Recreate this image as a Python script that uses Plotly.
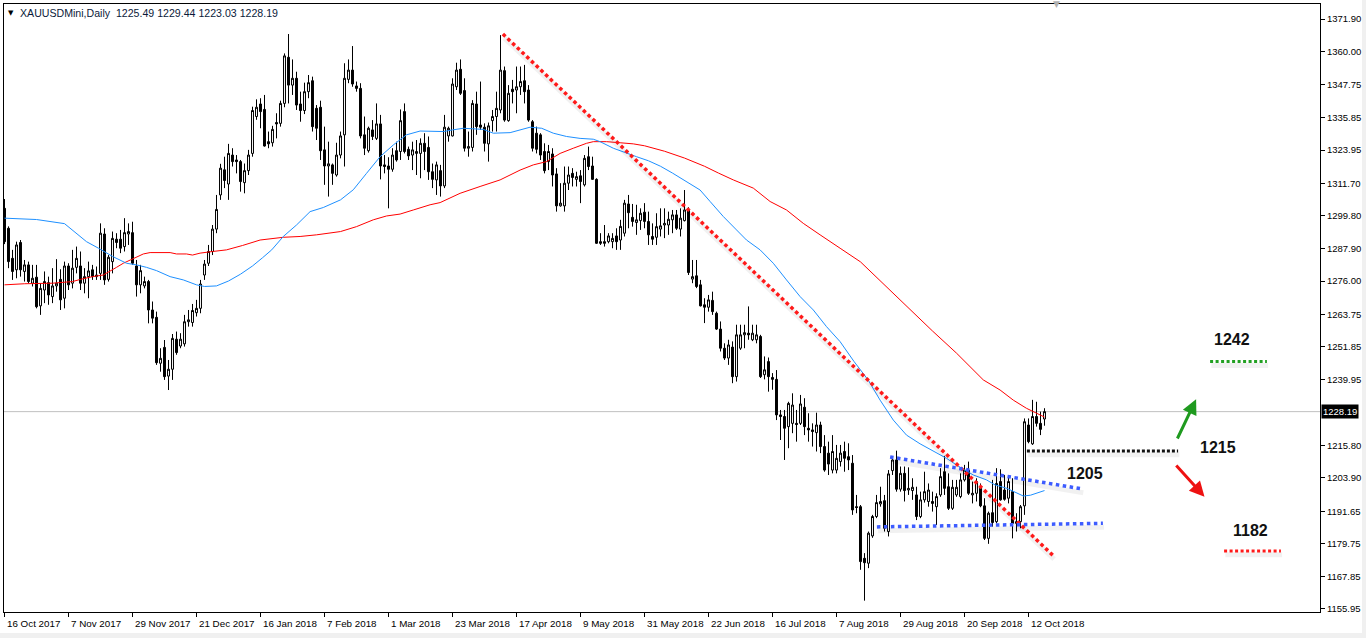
import plotly.graph_objects as go

# ---------------- data ----------------
opens = [1302.6,1295.3,1284.3,1280.1,1290.1,1279.5,1281.9,1275.2,1277.4,1266.9,
1272.7,1275.4,1270.3,1274.2,1276.6,1269.7,1281.5,1275.2,1281.0,1281.5,
1275.2,1277.6,1280.1,1277.6,1278.8,1293.2,1276.6,1283.1,1291.3,1291.3,
1288.6,1293.2,1293.7,1281.5,1274.6,1274.2,1275.8,1265.4,1262.7,1245.9,
1251.7,1241.2,1243.7,1254.7,1252.2,1253.0,1261.1,1260.8,1264.4,1266.0,
1278.2,1282.5,1286.8,1295.0,1307.5,1316.7,1311.5,1322.1,1320.3,1319.7,
1312.0,1316.4,1322.7,1336.2,1340.8,1338.8,1327.0,1326.6,1334.0,1333.7,
1341.0,1357.9,1347.7,1350.2,1340.8,1338.4,1345.3,1349.3,1339.2,1339.6,
1324.0,1318.1,1318.5,1314.8,1322.1,1329.5,1349.8,1353.2,1347.4,1346.5,
1329.5,1323.7,1331.3,1328.2,1333.5,1318.5,1318.1,1316.9,1323.7,1323.4,
1338.0,1324.2,1322.1,1322.7,1322.7,1326.4,1324.9,1316.0,1313.0,1316.4,
1310.8,1329.1,1329.1,1347.1,1353.5,1345.7,1324.6,1324.9,1340.8,1333.1,
1332.3,1326.2,1334.7,1336.2,1338.6,1353.0,1334.7,1346.2,1345.9,1347.1,
1349.3,1345.9,1334.3,1330.1,1329.5,1323.4,1319.7,1322.5,1315.2,1303.5,
1303.5,1311.8,1315.4,1313.2,1314.5,1311.2,1321.5,1318.1,1313.2,1290.4,
1290.4,1290.4,1290.4,1292.5,1291.0,1293.5,1304.2,1299.3,1297.4,1298.1,
1301.2,1297.8,1292.3,1292.0,1295.0,1296.5,1296.5,1298.4,1300.2,1295.0,
1298.1,1302.3,1276.7,1277.9,1274.6,1267.3,1266.4,1268.9,1264.2,1258.4,
1251.4,1247.8,1251.8,1241.0,1251.4,1256.3,1256.9,1254.5,1254.5,1255.7,
1241.7,1246.5,1240.7,1240.0,1227.0,1226.4,1222.7,1223.9,1223.9,1223.9,
1229.8,1222.1,1221.5,1220.5,1223.3,1215.4,1213.0,1206.8,1206.8,1209.9,
1213.6,1211.7,1209.3,1193.4,1193.4,1174.5,1172.7,1182.7,1189.8,1194.4,
1195.6,1184.3,1206.6,1210.5,1199.8,1205.6,1199.5,1199.3,1197.7,1189.8,
1195.9,1195.3,1195.3,1193.4,1197.7,1206.2,1200.7,1192.8,1197.7,1197.1,
1203.2,1206.8,1197.7,1198.3,1200.1,1193.7,1181.8,1191.2,1187.9,1202.6,
1199.5,1196.5,1198.9,1187.9,1187.9,1193.7,1223.3,1216.4,1226.4,1223.9,
1225.49]
highs = [1306.0,1296.0,1287.4,1290.4,1291.0,1283.7,1283.1,1281.9,1281.9,1275.2,
1279.5,1277.6,1280.7,1284.0,1280.3,1283.1,1282.5,1287.4,1288.6,1286.8,
1280.7,1283.1,1281.9,1281.3,1297.1,1295.3,1285.5,1294.1,1293.5,1294.7,
1299.0,1297.1,1297.7,1283.7,1281.9,1277.6,1276.4,1268.5,1264.8,1251.4,
1254.4,1247.1,1256.6,1257.5,1256.9,1263.6,1265.4,1267.6,1269.1,1276.4,
1283.7,1289.2,1296.5,1307.5,1318.9,1321.5,1326.2,1324.6,1322.1,1320.3,
1319.0,1324.0,1339.8,1342.5,1342.9,1344.1,1330.7,1332.8,1337.4,1342.0,
1359.3,1366.4,1357.1,1352.6,1345.3,1348.6,1351.4,1350.8,1340.4,1342.0,
1332.5,1327.0,1319.0,1326.6,1330.7,1355.7,1357.1,1362.0,1349.0,1348.4,
1336.2,1332.5,1334.9,1341.0,1336.8,1322.1,1321.3,1324.6,1327.0,1338.8,
1341.0,1325.2,1327.0,1327.6,1328.2,1330.1,1328.9,1319.0,1319.7,1318.5,
1336.8,1332.5,1350.2,1355.9,1357.1,1350.2,1330.7,1342.2,1345.3,1349.0,
1333.7,1334.0,1338.6,1345.3,1366.0,1354.5,1347.7,1349.6,1354.5,1354.5,
1355.1,1347.7,1334.9,1332.5,1330.1,1326.4,1325.8,1324.6,1317.3,1311.8,
1317.9,1317.9,1317.3,1316.0,1316.6,1322.1,1325.2,1321.5,1313.6,1293.5,
1296.5,1293.5,1293.5,1295.3,1298.4,1305.7,1307.5,1304.2,1303.9,1302.6,
1304.5,1301.4,1297.1,1300.8,1302.6,1302.6,1301.4,1302.0,1302.0,1302.6,
1309.3,1303.0,1283.7,1283.7,1276.4,1269.7,1270.9,1272.1,1264.8,1261.2,
1253.2,1254.5,1253.9,1260.0,1260.0,1260.0,1266.7,1260.0,1260.0,1256.3,
1248.4,1248.0,1242.3,1243.4,1228.8,1228.8,1231.8,1234.9,1228.8,1234.3,
1233.1,1227.6,1223.9,1227.8,1224.5,1219.6,1217.2,1219.6,1216.0,1216.0,
1217.2,1216.6,1212.3,1197.7,1194.0,1176.4,1184.3,1190.4,1197.7,1200.7,
1197.7,1206.8,1211.7,1213.9,1208.1,1208.1,1207.8,1203.8,1200.7,1198.9,
1206.2,1201.9,1198.9,1198.3,1207.5,1212.0,1205.6,1203.2,1203.2,1205.6,
1208.7,1209.9,1202.6,1203.8,1201.9,1196.5,1191.6,1203.2,1207.5,1207.1,
1205.0,1205.0,1203.8,1191.0,1194.0,1225.7,1225.7,1232.5,1231.8,1228.2,
1229.44]
lows = [1289.5,1280.7,1276.4,1277.0,1277.6,1275.8,1275.2,1274.0,1266.0,1263.6,
1267.9,1267.3,1267.9,1272.1,1265.4,1266.0,1272.7,1273.3,1278.8,1272.7,
1271.5,1269.7,1276.4,1276.4,1276.4,1274.6,1275.8,1278.8,1288.0,1286.2,
1286.8,1289.2,1281.9,1270.3,1271.5,1273.3,1260.5,1260.5,1245.3,1242.8,
1239.8,1236.1,1239.8,1249.0,1251.4,1252.0,1259.3,1259.3,1263.0,1264.2,
1276.4,1281.5,1285.5,1293.5,1305.7,1310.0,1305.7,1317.9,1315.4,1308.7,
1308.1,1314.8,1321.5,1335.0,1331.9,1325.2,1324.6,1325.2,1328.2,1332.5,
1339.6,1341.0,1344.1,1338.6,1334.3,1337.1,1342.9,1330.7,1327.6,1320.3,
1311.2,1306.9,1311.2,1314.2,1320.9,1317.9,1348.4,1347.1,1345.3,1328.2,
1322.1,1323.0,1327.6,1327.6,1313.2,1315.4,1302.6,1316.0,1319.7,1320.3,
1322.7,1320.3,1316.6,1314.8,1313.6,1316.6,1313.0,1310.0,1307.5,1306.9,
1310.0,1327.0,1328.9,1345.9,1344.1,1323.4,1321.5,1323.4,1329.5,1331.3,
1323.4,1319.7,1330.7,1330.7,1337.4,1334.3,1334.3,1341.0,1337.4,1344.1,
1341.0,1334.3,1323.4,1322.7,1320.3,1315.4,1316.6,1310.6,1301.4,1303.2,
1301.4,1309.3,1310.6,1310.6,1304.5,1310.6,1316.6,1313.0,1289.6,1289.2,
1288.6,1289.8,1288.0,1287.4,1287.4,1292.3,1295.3,1295.9,1292.9,1294.7,
1295.3,1289.2,1289.2,1289.2,1292.3,1291.7,1292.9,1293.5,1294.7,1292.3,
1297.8,1278.2,1275.2,1273.4,1266.7,1260.6,1264.8,1263.6,1258.1,1250.2,
1247.1,1245.3,1238.6,1239.2,1250.8,1251.4,1254.5,1254.0,1253.2,1240.5,
1240.0,1235.5,1236.2,1225.1,1217.8,1210.5,1214.8,1220.3,1217.2,1223.3,
1219.6,1217.2,1215.4,1213.6,1213.0,1206.2,1205.0,1205.6,1205.6,1208.1,
1206.2,1206.8,1190.4,1191.0,1170.3,1159.0,1170.9,1182.0,1189.2,1193.4,
1184.3,1182.5,1205.0,1198.9,1198.9,1195.3,1197.7,1195.9,1188.5,1189.2,
1194.9,1193.4,1191.6,1186.7,1197.0,1197.7,1192.2,1192.2,1197.0,1196.5,
1202.6,1197.7,1194.6,1195.3,1193.2,1181.2,1179.8,1186.1,1187.3,1195.6,
1195.6,1194.6,1181.8,1184.3,1185.5,1190.4,1216.6,1216.0,1222.7,1219.6,
1223.03]
closes = [1290.4,1283.1,1279.5,1289.2,1280.1,1281.9,1275.8,1277.0,1266.6,1273.3,
1275.8,1270.9,1274.2,1275.2,1269.1,1281.5,1274.6,1280.7,1284.3,1275.2,
1277.6,1279.7,1277.6,1278.2,1293.5,1276.4,1284.7,1291.6,1290.1,1288.0,
1293.7,1294.1,1282.5,1274.6,1279.8,1275.8,1265.4,1262.4,1246.1,1247.7,
1241.0,1243.7,1255.0,1249.8,1254.7,1261.1,1261.8,1265.2,1266.0,1274.9,
1282.2,1286.8,1295.0,1302.2,1317.3,1312.8,1322.7,1319.7,1319.7,1312.4,
1316.4,1322.1,1338.4,1339.6,1338.0,1325.4,1326.2,1331.5,1333.5,1341.0,
1358.4,1347.7,1350.2,1340.4,1338.4,1345.3,1348.6,1332.5,1331.9,1323.7,
1318.1,1318.9,1315.4,1322.1,1329.1,1350.2,1353.2,1348.1,1346.5,1329.1,
1324.6,1331.9,1328.9,1333.5,1318.1,1317.9,1316.9,1322.1,1320.3,1334.7,
1323.4,1321.8,1324.0,1323.4,1326.4,1323.4,1316.0,1313.2,1318.5,1310.8,
1332.3,1331.9,1348.1,1353.2,1344.7,1324.6,1325.2,1341.0,1332.5,1332.3,
1326.4,1332.8,1336.2,1339.2,1353.2,1334.9,1344.7,1345.3,1347.1,1349.0,
1345.3,1334.9,1324.6,1324.2,1322.1,1316.4,1323.4,1314.8,1303.5,1304.5,
1311.8,1314.8,1313.9,1314.2,1312.4,1320.9,1317.9,1313.2,1289.8,1289.8,
1289.8,1292.5,1291.6,1290.4,1296.0,1304.5,1301.0,1297.8,1298.4,1300.8,
1297.8,1292.9,1291.3,1295.9,1296.2,1297.1,1298.6,1300.2,1295.3,1299.0,
1302.0,1279.1,1277.6,1274.0,1266.9,1266.4,1269.1,1264.8,1258.4,1251.4,
1247.8,1252.6,1241.0,1256.3,1256.3,1257.1,1256.3,1256.9,1256.3,1241.0,
1243.5,1241.0,1240.0,1227.0,1226.4,1222.1,1231.2,1230.6,1223.5,1231.0,
1222.7,1221.5,1220.9,1223.3,1215.4,1206.8,1209.0,1213.6,1211.1,1213.0,
1211.1,1210.5,1192.2,1193.1,1173.3,1172.9,1183.7,1189.8,1194.9,1195.3,
1185.5,1205.4,1210.5,1199.8,1205.6,1199.3,1200.1,1200.5,1189.8,1195.9,
1198.9,1199.5,1194.6,1197.1,1204.4,1200.1,1192.8,1200.5,1200.5,1203.2,
1206.8,1198.3,1198.3,1202.6,1193.7,1181.8,1191.0,1187.6,1201.9,1195.9,
1196.1,1202.6,1187.3,1187.3,1193.4,1224.5,1217.2,1226.4,1223.9,1221.7,
1228.19]
bars = list(range(len(opens)))

# moving averages, read as (bar, value) points
ma_blue_x = [0,8,15,17,20.5,23.5,27,30.5,33,35.5,38,41.4,44.7,48,50,53,56,59,62,64.5,
             66.8,69.7,73,76.4,79.7,84,87.2,90.5,93.9,97.2,100.5,103.9,109.7,112,114.7,119.7,
             122.2,126.4,128.9,131.4,134.3,137.2,140.5,143.9,147.2,148.9,152.2,155.6,158,161,
             164,167,169.7,173.9,176.4,179.7,183,185.5,188.9,192.2,195.5,198.9,202.2,205.5,
             208.9,212.4,215.9,218.9,222.2,225.5,228.9,232.2,235.5,238.9,242.2,245.5,247.6,
             250.6,253.1,254.7,256.5,258,260]
ma_blue_y = [1299,1298.5,1297,1294.6,1290.4,1288,1285,1282.5,1281.9,1281,1279.8,1277.6,1276.4,
             1274.6,1274,1274.2,1276,1278.5,1281.5,1284.5,1287.4,1292.3,1296.5,1301.4,1302.9,
             1305.7,1309.4,1315.4,1321.5,1325.8,1329.5,1330.9,1330.7,1331.3,1331.9,1331.5,
             1330.1,1330.3,1331.3,1332.3,1331.9,1330.1,1328.9,1328.2,1327.9,1327,1324.6,1322.7,
             1321.5,1320,1318,1315.5,1313,1309.3,1305.1,1299.6,1294.7,1291,1287.4,1282.5,1276.4,
             1270.3,1265.4,1259.3,1253.8,1246.5,1239.8,1232.4,1225.1,1219.6,1216.4,1213.6,1211.1,
             1207.8,1205,1203.2,1201.4,1200.1,1198.3,1197.3,1197.6,1198.3,1199.3]
ma_red_x = [0,5,12,17,19,22,24.7,26.4,28,29.7,31.4,33,34.7,36.4,41.4,43,45.5,47,48.9,52,55.5,
            59.5,63.9,69.7,73.9,78,84,88,92.2,95.5,98.9,102.2,106.4,108.9,113.9,118.9,123.9,
            128.9,132.2,135.5,138.9,142.2,145.5,147.2,150.5,153.9,157.2,160,165,170,175,178.5,
            182.2,187.2,191.4,195.5,199.7,203.9,207.2,208.9,214,220,226,232,238,244.7,248.9,
            252.2,255.5,258.9,260]
ma_red_y = [1274.6,1275,1275.2,1275.8,1276.6,1277.6,1278.2,1279.5,1281,1282.5,1283.7,1285,
            1285.9,1286.4,1286.4,1285.9,1285.9,1285.5,1286.2,1286.8,1287.4,1289,1291,1292,
            1292.3,1292.9,1294.1,1295.9,1298.4,1299.8,1300.5,1302,1303.9,1304.7,1308.1,1310.6,
            1313,1316.6,1318.5,1319.7,1322.7,1324.6,1326.4,1327,1327,1326.6,1326.2,1325.5,
            1323.5,1321,1318,1315.5,1313,1310,1305.1,1302,1297.1,1292.9,1289.8,1288,1283,
            1274.5,1266.1,1257.7,1249.6,1239.8,1236.1,1232.4,1229.4,1227,1226.2]

date_tick_bars = [0,16,32,48,64,80,96,112,128,144,160,176,192,208,224,240,256]
date_labels = ["16 Oct 2017","7 Nov 2017","29 Nov 2017","21 Dec 2017","16 Jan 2018",
               "7 Feb 2018","1 Mar 2018","23 Mar 2018","17 Apr 2018","9 May 2018",
               "31 May 2018","22 Jun 2018","16 Jul 2018","7 Aug 2018","29 Aug 2018",
               "20 Sep 2018","12 Oct 2018"]
price_ticks = [1371.90,1360.00,1347.75,1335.85,1323.95,1311.70,1299.80,1287.90,1276.00,
               1263.75,1251.85,1239.95,1215.80,1203.90,1191.65,1179.75,1167.85,1155.95]
last_price = 1228.19
title_text = "XAUUSDMini,Daily  1225.49 1229.44 1223.03 1228.19"

# drawn objects (bar index, price)
trend_red_x, trend_red_y = [124.6, 262.1], [1366.4, 1175.6]
tri_top_x, tri_top_y = [221.4, 269.4], [1211.6, 1199.9]
tri_bot_x, tri_bot_y = [218.1, 274.6], [1186.0, 1187.3]
lvl_1215_x, lvl_1215_y = [255.6, 293.4], [1213.8, 1213.8]
lvl_1242_x, lvl_1242_y = [301.4, 315.6], [1246.5, 1246.5]
lvl_1182_x, lvl_1182_y = [304.9, 319.1], [1177.2, 1177.2]
arrow_up = dict(x0=293.05, y0=1217.8, x1=297.9, y1=1232.7)
arrow_dn = dict(x0=292.6, y0=1209.0, x1=300.0, y1=1197.05)
level_labels = [("1242", 306.9, 1254.7), ("1215", 303.3, 1215.1),
                ("1205", 270.1, 1205.4), ("1182", 311.6, 1184.5)]

# ---------------- figure ----------------
SMALL = "Liberation Sans, Arial"
fig = go.Figure()

def shadow(xs, ys):
    fig.add_trace(go.Scatter(x=[x + 0.3 for x in xs], y=[y - 1.4 for y in ys], mode="lines",
                             line=dict(color="rgba(0,0,0,0.055)", width=5),
                             hoverinfo="skip", showlegend=False))

fig.add_trace(go.Candlestick(
    x=bars, open=opens, high=highs, low=lows, close=closes,
    increasing=dict(line=dict(color="black", width=1), fillcolor="white"),
    decreasing=dict(line=dict(color="black", width=1), fillcolor="black"),
    whiskerwidth=0, showlegend=False, hoverinfo="skip"))

fig.add_trace(go.Scatter(x=ma_red_x, y=ma_red_y, mode="lines",
                         line=dict(color="#ff0000", width=1), showlegend=False, hoverinfo="skip"))
fig.add_trace(go.Scatter(x=ma_blue_x, y=ma_blue_y, mode="lines",
                         line=dict(color="#1e90ff", width=1), showlegend=False, hoverinfo="skip"))

for xs, ys in [(trend_red_x, trend_red_y), (tri_top_x, tri_top_y), (tri_bot_x, tri_bot_y),
               (lvl_1215_x, lvl_1215_y), (lvl_1242_x, lvl_1242_y), (lvl_1182_x, lvl_1182_y)]:
    shadow(xs, ys)

def dotted(xs, ys, color, dash="3px,3px", width=3.5):
    fig.add_trace(go.Scatter(x=xs, y=ys, mode="lines",
                             line=dict(color=color, width=width, dash=dash),
                             hoverinfo="skip", showlegend=False))

dotted(trend_red_x, trend_red_y, "#ff1a1a", "3.5px,3px")
dotted(tri_top_x, tri_top_y, "#3d5cff", "3.5px,3.5px")
dotted(tri_bot_x, tri_bot_y, "#3d5cff", "3.5px,3.5px")
dotted(lvl_1215_x, lvl_1215_y, "#111111", "3px,2px", 3)
dotted(lvl_1242_x, lvl_1242_y, "#22a022", "3px,2.5px", 3)
dotted(lvl_1182_x, lvl_1182_y, "#ff1a1a", "3px,2.5px", 3)

annotations = []
for lab, bx in zip(date_labels, date_tick_bars):
    annotations.append(dict(x=bx, y=0, xref="x", yref="paper", text=lab, showarrow=False,
                            xanchor="left", yanchor="top", xshift=0, yshift=-4,
                            font=dict(family=SMALL, size=9.8, color="black")))
for txt, bx, py in level_labels:
    annotations.append(dict(x=bx, y=py, xref="x", yref="y", text="<b>%s</b>" % txt,
                            showarrow=False, font=dict(family="Liberation Sans, Arial", size=16,
                                                       color="#111111")))
for arr, col in [(arrow_up, "#1f9a1f"), (arrow_dn, "#ee1111")]:
    annotations.append(dict(x=arr["x1"], y=arr["y1"], ax=arr["x0"], ay=arr["y0"],
                            xref="x", yref="y", axref="x", ayref="y", text="",
                            showarrow=True, arrowhead=2, arrowsize=1, arrowwidth=3,
                            arrowcolor=col))
annotations.append(dict(x=1, y=last_price, xref="paper", yref="y", text="%.2f" % last_price,
                        showarrow=False, xanchor="left", xshift=1, bgcolor="black",
                        borderpad=1, font=dict(family=SMALL, size=9.5, color="white")))
annotations.append(dict(x=0, y=1, xref="paper", yref="paper", text="\u25bc", showarrow=False,
                        xanchor="left", yanchor="top", xshift=2, yshift=-3,
                        font=dict(family="DejaVu Sans", size=7, color="black")))
annotations.append(dict(x=0, y=1, xref="paper", yref="paper", text=title_text, showarrow=False,
                        xanchor="left", yanchor="top", xshift=14, yshift=-1,
                        font=dict(family=SMALL, size=10.6, color="#0a1a3a")))
annotations.append(dict(x=263.1, y=1, xref="x", yref="paper", text="\u25bc", showarrow=False,
                        yanchor="middle", font=dict(family="DejaVu Sans", size=9, color="#b0b0b0")))

shapes = [dict(type="line", xref="paper", yref="y", x0=0, x1=1, y0=last_price, y1=last_price,
               line=dict(color="#c0c0c0", width=1), layer="below"),
          dict(type="rect", xref="paper", yref="paper", x0=-0.01, x1=1.04, y0=-0.0345, y1=-0.05,
               fillcolor="#f0f0f0", line=dict(width=0), layer="below"),
          dict(type="rect", xref="paper", yref="paper", x0=1.0319, x1=1.04, y0=-0.05, y1=1.01,
               fillcolor="#f0f0f0", line=dict(width=0), layer="below")]

fig.update_layout(
    width=1366, height=638, autosize=False,
    margin=dict(l=4, r=46, t=4, b=26, pad=0),
    paper_bgcolor="white", plot_bgcolor="white",
    showlegend=False, annotations=annotations, shapes=shapes,
    xaxis=dict(range=[-0.125, 328.875], tickmode="array", tickvals=date_tick_bars,
               ticktext=[""] * len(date_tick_bars), ticks="outside", ticklen=4,
               tickcolor="black", showgrid=False, zeroline=False, showline=True,
               linecolor="black", linewidth=1, mirror=True, rangeslider=dict(visible=False),
               fixedrange=True, automargin=False),
    yaxis=dict(range=[1154.85, 1377.39], side="right", tickmode="array", tickvals=price_ticks,
               ticktext=["%.2f" % v for v in price_ticks], ticks="outside", ticklen=4,
               tickcolor="black", showgrid=False, zeroline=False, showline=True,
               linecolor="black", linewidth=1, mirror=True, automargin=False,
               tickfont=dict(family=SMALL, size=9.5, color="black"), fixedrange=True),
    hovermode=False,
)

fig.write_html("out.html", config={"displayModeBar": False},
               post_script="document.body.style.margin='0';document.body.style.overflow='hidden';")
